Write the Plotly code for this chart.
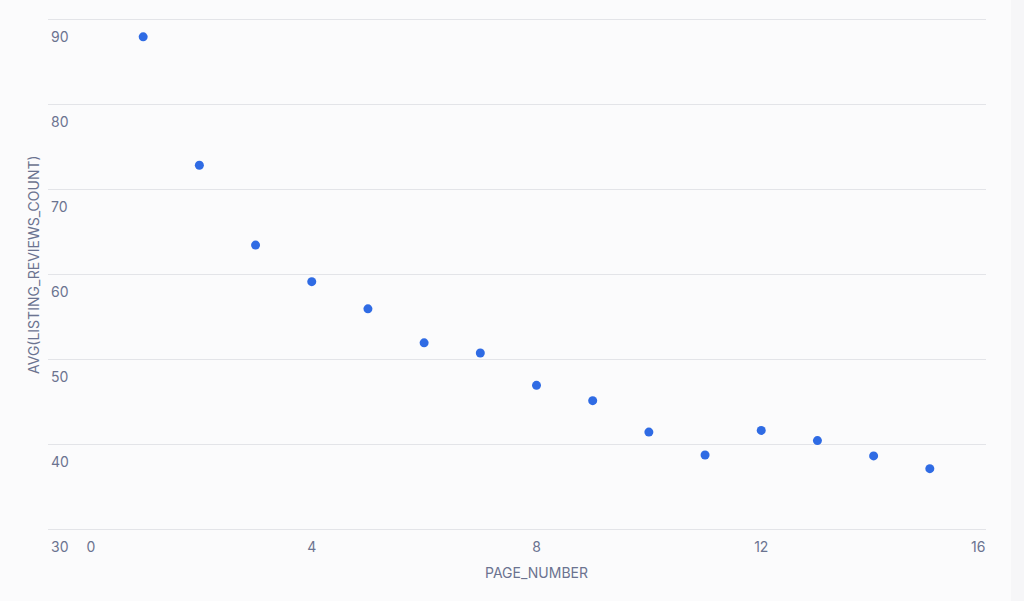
import plotly.graph_objects as go

page_number = [1, 2, 3, 4, 5, 6, 7, 8, 9, 10, 11, 12, 13, 14, 15]
avg_reviews = [87.9, 72.8, 63.4, 59.1, 55.9, 51.9, 50.7, 46.9, 45.1, 41.4, 38.7, 41.6, 40.4, 38.6, 37.1]
x_ticks = [0, 4, 8, 12, 16]
x_tick_labels = ["0", "4", "8", "12", "16"]
y_ticks = [30, 40, 50, 60, 70, 80, 90]
x_title = "PAGE_NUMBER"
y_title = "AVG(LISTING_REVIEWS_COUNT)"

NB = "\u00a0"
x_tick_text = [NB + NB + x_tick_labels[0]] + x_tick_labels[1:-1] + [x_tick_labels[-1] + NB * 4]

text_color = "#6b7390"
W, H = 1024, 601
ML, MR = 48, 38
px_per_unit = 8.5
y_bottom_px = 529  # pixel row of y=30 baseline
y_min = 30 - (H - y_bottom_px) / px_per_unit
y_max = 90 + 19 / px_per_unit
plot_w = W - ML - MR

fig = go.Figure()
fig.add_trace(go.Scatter(
    x=page_number, y=avg_reviews, mode="markers",
    marker=dict(size=9, color="#2f6be4", line=dict(width=0)),
    hoverinfo="x+y",
))
fig.update_layout(
    width=W, height=H,
    margin=dict(l=ML, r=MR, t=0, b=0),
    paper_bgcolor="#fbfbfc", plot_bgcolor="#fbfbfc",
    font=dict(family="Inter, Roboto, sans-serif", color=text_color, size=13),
    showlegend=False,
    xaxis=dict(
        range=[-0.694, 16], tickvals=x_ticks, ticktext=x_tick_text,
        showgrid=False, zeroline=False,
        showline=False, ticks="", tickfont=dict(size=14, color=text_color),
        ticklen=0, anchor="free", position=(H - y_bottom_px) / H,
        ticklabelstandoff=8,
    ),
    yaxis=dict(
        range=[y_min, y_max], tickvals=y_ticks, showgrid=True, gridcolor="#e3e4e8",
        gridwidth=1, zeroline=False, showline=False, ticks="",
        ticklabelposition="inside", ticklabelshift=18,
        tickfont=dict(size=14, color=text_color),
    ),
    shapes=[
        dict(type="rect", xref="paper", yref="paper", layer="below",
             x0=(1011 - ML) / plot_w, x1=(W - ML) / plot_w, y0=0, y1=1,
             fillcolor="#f6f6f8", line=dict(width=0)),
    ],
    annotations=[
        dict(text=x_title, xref="x", x=8, yref="paper", y=(H - 572) / H,
             xanchor="center", yanchor="middle", showarrow=False,
             font=dict(size=14, color=text_color)),
        dict(text=y_title, xref="paper", x=0, xshift=-15, yref="paper", y=(H - 265) / H,
             xanchor="center", yanchor="middle", textangle=-90, showarrow=False,
             font=dict(size=14, color=text_color)),
    ],
)
fig.write_html(
    "out.html",
    config={"displayModeBar": False},
    post_script="document.body.style.margin='0';document.body.style.background='#fbfbfc';",
)
